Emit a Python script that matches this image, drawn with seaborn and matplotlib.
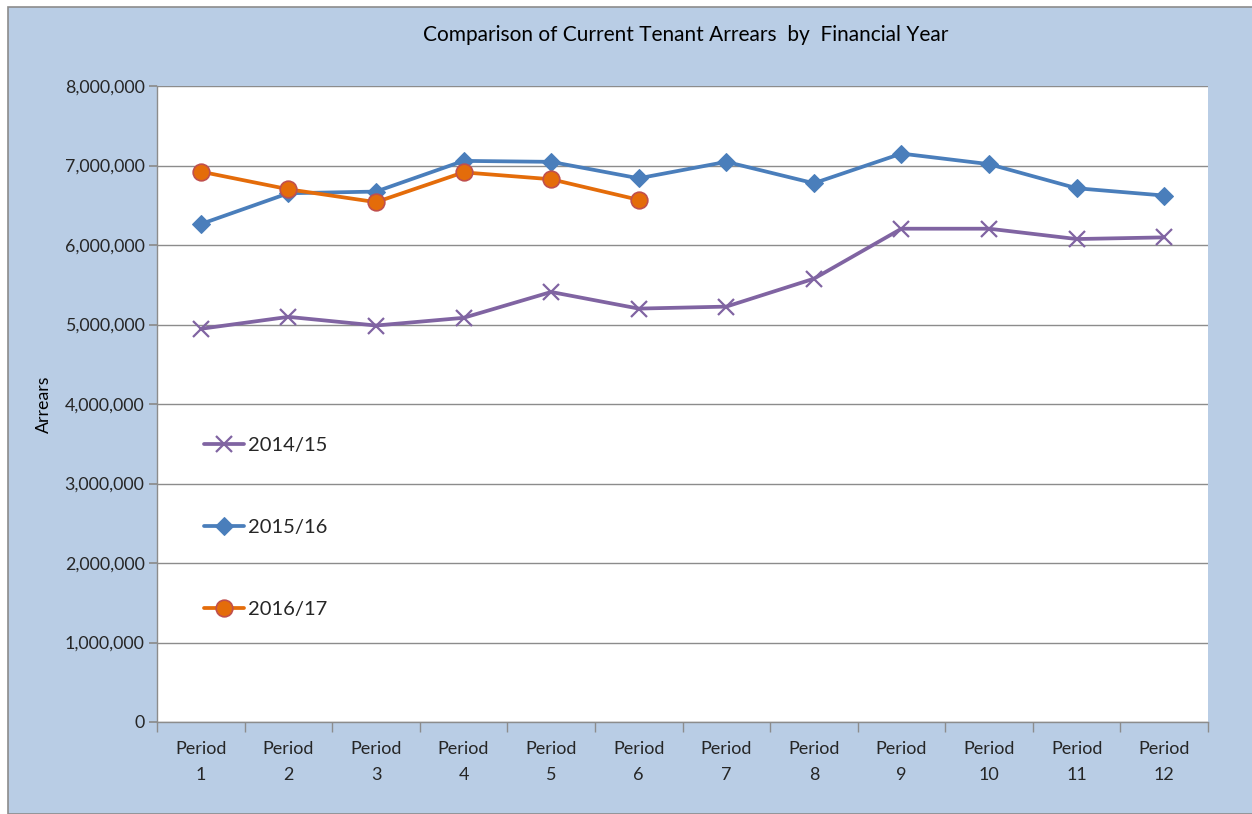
import numpy as np
import pandas as pd
import seaborn as sns
import matplotlib.pyplot as plt
from matplotlib.patches import Rectangle
from matplotlib.ticker import FuncFormatter, FixedLocator

# Data
periods = [f"Period\n{i}" for i in range(1, 13)]
arrears_1415 = [4946000, 5096000, 4987000, 5084000, 5409000, 5200000,
                5225000, 5576000, 6205000, 6205000, 6075000, 6096000]
arrears_1516 = [6263000, 6651000, 6672000, 7058000, 7046000, 6839000,
                7046000, 6777000, 7150000, 7017000, 6714000, 6622000]
arrears_1617 = [6923000, 6701000, 6539000, 6914000, 6827000, 6568000]
series_names = ["2014/15", "2015/16", "2016/17"]

sns.set_theme(style="white")
plt.rcParams["font.family"] = ["Lato", "DejaVu Sans"]

fig = plt.figure(figsize=(12.52, 8.14), dpi=100)
fig.patch.set_facecolor("white")
W, H = 1252, 814
fig.add_artist(Rectangle((8 / W, 0), 1, 1 - 7 / H, transform=fig.transFigure,
                         facecolor="#B9CDE5", edgecolor="#8C8C8C", linewidth=1.2,
                         zorder=0))

ax = fig.add_axes([157 / W, 1 - 722 / H, (1208 - 157) / W, (722 - 86) / H])
ax.set_facecolor("white")

x = np.arange(len(periods))
styles = [
    dict(color="#8064A2", marker="x", markersize=11, markeredgewidth=1.6,
         markeredgecolor="#8064A2"),
    dict(color="#4A7EBB", marker="D", markersize=9.5, markeredgecolor="#4A7EBB"),
    dict(color="#E46C0A", marker="o", markersize=12, markeredgecolor="#C0504D",
         markeredgewidth=1.2),
]
for name, vals, st in zip(series_names, [arrears_1415, arrears_1516, arrears_1617], styles):
    df = pd.DataFrame({"x": x[:len(vals)], "y": vals})
    sns.lineplot(data=df, x="x", y="y", ax=ax, label=name, linewidth=2.7, zorder=3, **st)

ax.set_xlim(-0.5, len(periods) - 0.5)
ax.set_ylim(0, 8000000)
ax.set_yticks(np.arange(0, 8000001, 1000000))
ax.yaxis.set_major_formatter(FuncFormatter(lambda v, p: f"{int(v):,}"))
ax.grid(axis="y", color="#8C8C8C", linewidth=1)
ax.set_axisbelow(True)

ax.set_xticks(x)
ax.set_xticklabels(periods, fontsize=13, color="#262626", linespacing=1.75)
ax.xaxis.set_minor_locator(FixedLocator(np.arange(-0.5, len(periods), 1)))
ax.tick_params(axis="x", which="major", length=0, pad=14)
ax.tick_params(axis="x", which="minor", length=7, color="#8C8C8C", direction="out",
               bottom=True)
ax.tick_params(axis="y", length=6, color="#8C8C8C", direction="out", left=True,
               labelsize=12.8, labelcolor="#262626", pad=3)

for side in ["top", "right"]:
    ax.spines[side].set_visible(False)
for side in ["left", "bottom"]:
    ax.spines[side].set_color("#8C8C8C")
    ax.spines[side].set_linewidth(1)

ax.set_xlabel("")
ax.set_ylabel("Arrears", fontsize=12.8, color="black")
ax.yaxis.set_label_coords(-0.1, 0.5)

fig.text(686 / W, 1 - 35 / H, "Comparison of Current Tenant Arrears  by  Financial Year",
         ha="center", va="center", fontsize=15, color="black")

leg = ax.legend(loc="upper left", bbox_to_anchor=(0.027, 0.476), frameon=False,
                fontsize=14.5, labelspacing=3.2, handlelength=2.0, handletextpad=0.2)

fig.savefig("out.png", dpi=100, facecolor=fig.get_facecolor())
